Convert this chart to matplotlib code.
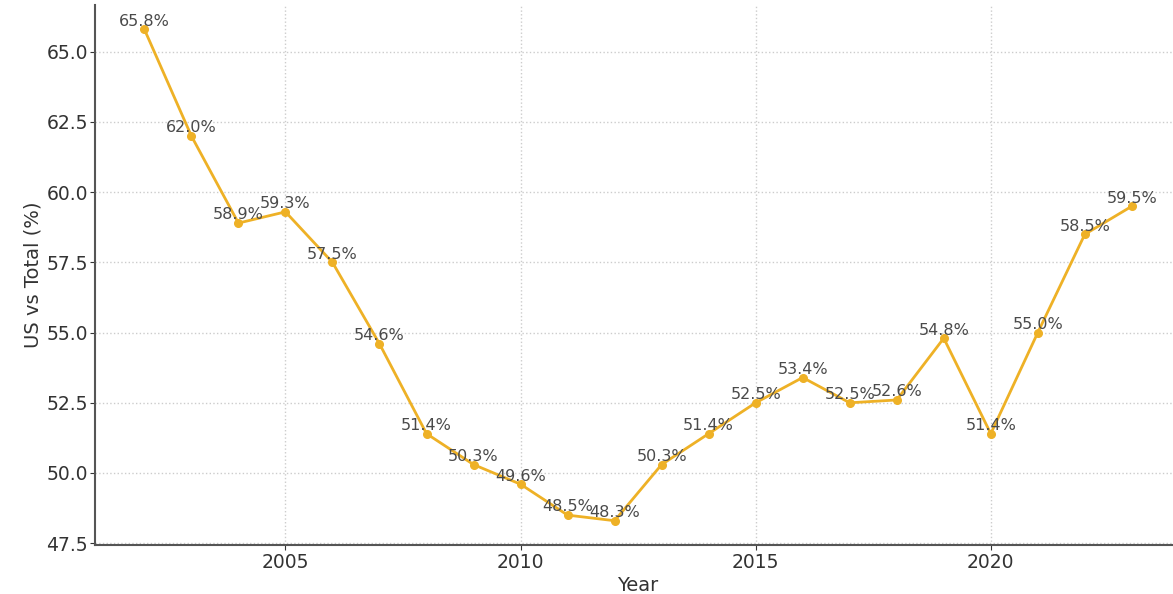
import matplotlib
matplotlib.use("Agg")
import matplotlib.pyplot as plt

years = [2002, 2003, 2004, 2005, 2006, 2007, 2008, 2009, 2010, 2011, 2012,
         2013, 2014, 2015, 2016, 2017, 2018, 2019, 2020, 2021, 2022, 2023]
us_share = [65.8, 62.0, 58.9, 59.3, 57.5, 54.6, 51.4, 50.3, 49.6, 48.5, 48.3,
            50.3, 51.4, 52.5, 53.4, 52.5, 52.6, 54.8, 51.4, 55.0, 58.5, 59.5]
x_ticks = [2005, 2010, 2015, 2020]
y_ticks = [47.5, 50.0, 52.5, 55.0, 57.5, 60.0, 62.5, 65.0]

line_color = "#EEB126"

fig = plt.figure(figsize=(11.73, 5.94), dpi=100)
ax = fig.add_axes([0.081, 0.082, 0.926, 0.910])

ax.plot(years, us_share, color=line_color, marker="o", markersize=5.5, linewidth=2)
for x, y in zip(years, us_share):
    ax.annotate(f"{y:.1f}%", (x, y), textcoords="offset points", xytext=(0, 0.5),
                ha="center", va="bottom", fontsize=11.5, color="#4a4a4a")

ax.set_xlim(2000.95, 2024.05)
ax.set_ylim(47.425, 66.675)
ax.set_xticks(x_ticks)
ax.set_yticks(y_ticks)
ax.set_yticklabels([f"{v:.1f}" for v in y_ticks])
ax.tick_params(labelsize=13.5, colors="#333333", length=3.5)
ax.tick_params(axis="x", pad=2)
ax.tick_params(axis="y", pad=1.5)
ax.set_xlabel("Year", fontsize=14, color="#333333", labelpad=3)
ax.set_ylabel("US vs Total (%)", fontsize=14, color="#333333", labelpad=3)
ax.grid(True, linestyle=":", color="#cccccc", linewidth=1)
for side in ["top", "right"]:
    ax.spines[side].set_visible(False)
for side in ["left", "bottom"]:
    ax.spines[side].set_color("#555555")
    ax.spines[side].set_linewidth(1.5)

fig.savefig("out.png", dpi=100)
